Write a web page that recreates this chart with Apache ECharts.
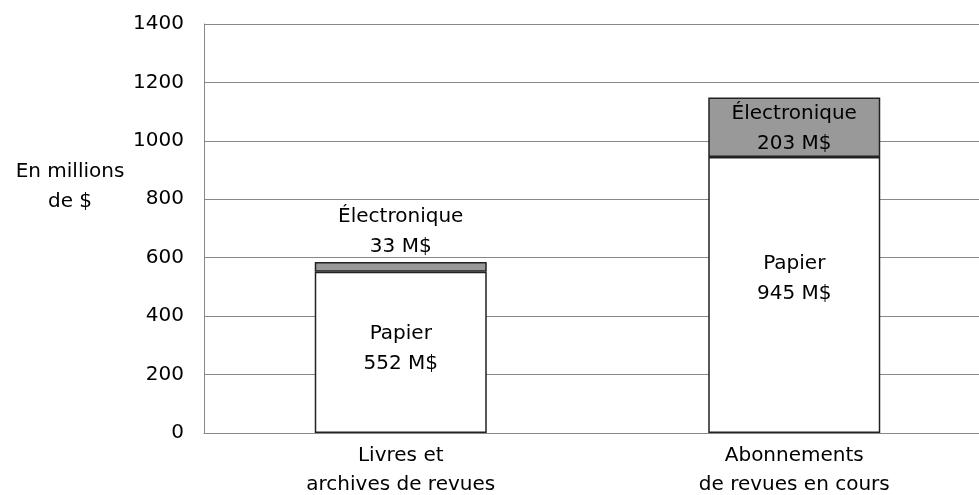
<!DOCTYPE html>
<html>
<head>
	<meta charset="UTF-8">
	<title>Dépenses</title>
	<style>
		html, body { margin: 0; padding: 0; background: #fff; }
		#chart { width: 979px; height: 495px; }
	</style>
</head>
<body>
	<div id="chart"></div>
	<script src="https://cdn.jsdelivr.net/npm/echarts@6/dist/echarts.min.js"></script>
	<script type="text/javascript">
		// categories and values (millions $)
		var categories = ['Livres et\narchives de revues', 'Abonnements\nde revues en cours'];
		var papier = [552, 945];
		var electronique = [33, 203];

		var font = '"DejaVu Sans", sans-serif';
		var fs = 20;

		var chart = echarts.init(document.getElementById('chart'));

		var option = {
			animation: false,
			textStyle: { fontFamily: font },
			grid: { left: 204, right: -12, top: 24, bottom: 62, outerBoundsMode: 'none', containLabel: false },
			graphic: [{
				type: 'text',
				x: 70,
				y: 157,
				style: {
					text: 'En millions\nde $',
					font: fs + 'px ' + font,
					fill: '#000',
					align: 'center',
					verticalAlign: 'top',
					lineHeight: 30
				}
			}],
			xAxis: {
				type: 'category',
				data: categories,
				axisLine: { lineStyle: { color: '#888', width: 1 } },
				axisTick: { show: false },
				axisLabel: { color: '#000', fontSize: fs, lineHeight: 29, margin: 8, fontFamily: font }
			},
			yAxis: {
				type: 'value',
				min: 0,
				max: 1400,
				interval: 200,
				axisLine: { show: true, lineStyle: { color: '#888' } },
				axisTick: { show: false },
				axisLabel: {
					color: '#000', fontSize: fs, margin: 20, fontFamily: font,
					formatter: function (v) { return String(v); }
				},
				splitLine: { lineStyle: { color: '#888', width: 1 } }
			},
			series: [{
				name: 'Papier',
				type: 'bar',
				stack: 'total',
				barWidth: 172,
				itemStyle: { color: '#fff', borderColor: '#222', borderWidth: 1.5 },
				label: {
					show: true,
					position: 'inside',
					color: '#000',
					fontSize: fs,
					lineHeight: 30,
					fontFamily: font,
					formatter: function (p) { return 'Papier\n' + p.value + ' M$'; }
				},
				data: [
					{ value: papier[0], label: { offset: [0, -4] } },
					{ value: papier[1], label: { offset: [0, -16] } }
				]
			}, {
				name: 'Électronique',
				type: 'bar',
				stack: 'total',
				barWidth: 172,
				itemStyle: { color: '#999', borderColor: '#222', borderWidth: 1.5 },
				label: {
					show: true,
					color: '#000',
					fontSize: fs,
					lineHeight: 30,
					fontFamily: font,
					formatter: function (p) { return 'Électronique\n' + p.value + ' M$'; }
				},
				data: [
					{ value: electronique[0], label: { position: 'top', distance: 0 } },
					{ value: electronique[1], label: { position: 'inside', offset: [0, 2] } }
				]
			}]
		};

		chart.setOption(option);
	</script>
</body>
</html>
